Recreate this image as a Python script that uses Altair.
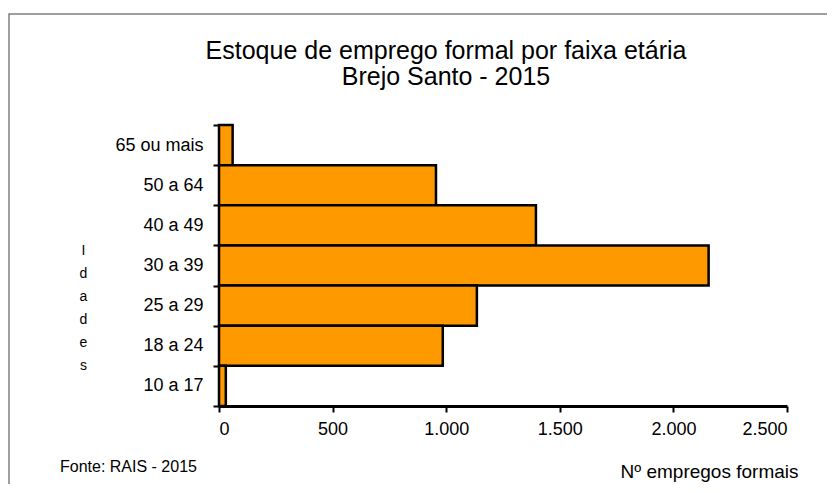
import altair as alt
import pandas as pd

faixas = ["65 ou mais", "50 a 64", "40 a 49", "30 a 39", "25 a 29", "18 a 24", "10 a 17"]
empregos = [60, 955, 1395, 2155, 1135, 985, 30]

titulo = ["Estoque de emprego formal por faixa etária", "Brejo Santo - 2015"]
fonte = "Fonte: RAIS - 2015"
eixo_x = "Nº empregos formais"
eixo_y = ["I", "d", "a", "d", "e", "s"]

df = pd.DataFrame({"faixa": faixas, "n": empregos})

W, H = 568, 281
FONT = "Liberation Sans"

bars = alt.Chart(df).mark_bar(
    color="#FF9900", stroke="#000000", strokeWidth=2.5
).encode(
    x=alt.X(
        "n:Q",
        scale=alt.Scale(domain=[0, 2500], nice=False),
        axis=alt.Axis(
            values=[0, 500, 1000, 1500, 2000, 2500],
            labelExpr="replace(format(datum.value, ','), ',', '.')",
            title=eixo_x,
            titleX=579, titleY=65, titleAlign="right", titleBaseline="middle",
            titleFontSize=19, titleFontWeight="normal", titleFont=FONT,
            titleColor="#000000",
            labelFontSize=18, labelFont=FONT, labelColor="#000000", labelPadding=8,
            domainColor="#000000", domainWidth=3,
            tickColor="#000000", tickWidth=2, tickSize=6,
            grid=False,
        ),
    ),
    y=alt.Y(
        "faixa:N",
        sort=faixas,
        scale=alt.Scale(paddingInner=0, paddingOuter=0),
        axis=alt.Axis(
            title=eixo_y,
            titleAngle=0, titleX=-136, titleY=118, titleAlign="center",
            titleBaseline="top", titleLineHeight=23,
            titleFontSize=14, titleFontWeight="normal", titleFont=FONT,
            titleColor="#000000",
            labelFontSize=18, labelFont=FONT, labelColor="#000000", labelPadding=10,
            tickBand="extent",
            domainColor="#000000", domainWidth=3,
            tickColor="#000000", tickWidth=2, tickSize=6,
            grid=False,
        ),
    ),
)

one = pd.DataFrame({"k": [0]})

frame = alt.Chart(one).mark_rect(
    fill=None, stroke="#808080", strokeWidth=1.5
).encode(
    x=alt.value(-210), x2=alt.value(660),
    y=alt.value(-111), y2=alt.value(400),
)

title_txt = alt.Chart(one).mark_text(
    text=titulo, font=FONT, fontSize=25, align="center", baseline="alphabetic",
    lineHeight=26, color="#000000",
).encode(x=alt.value(227), y=alt.value(-66))

fonte_txt = alt.Chart(one).mark_text(
    text=fonte, font=FONT, fontSize=16, align="left", baseline="middle",
    color="#000000",
).encode(x=alt.value(-159), y=alt.value(342))

chart = alt.layer(frame, bars, title_txt, fonte_txt).properties(
    width=W, height=H,
    autosize=alt.AutoSizeParams(type="none"),
    padding={"left": 211, "top": 117, "right": 40, "bottom": 78},
).configure_view(stroke=None)

chart.save("out.html", embed_options={"renderer": "svg", "actions": False})
